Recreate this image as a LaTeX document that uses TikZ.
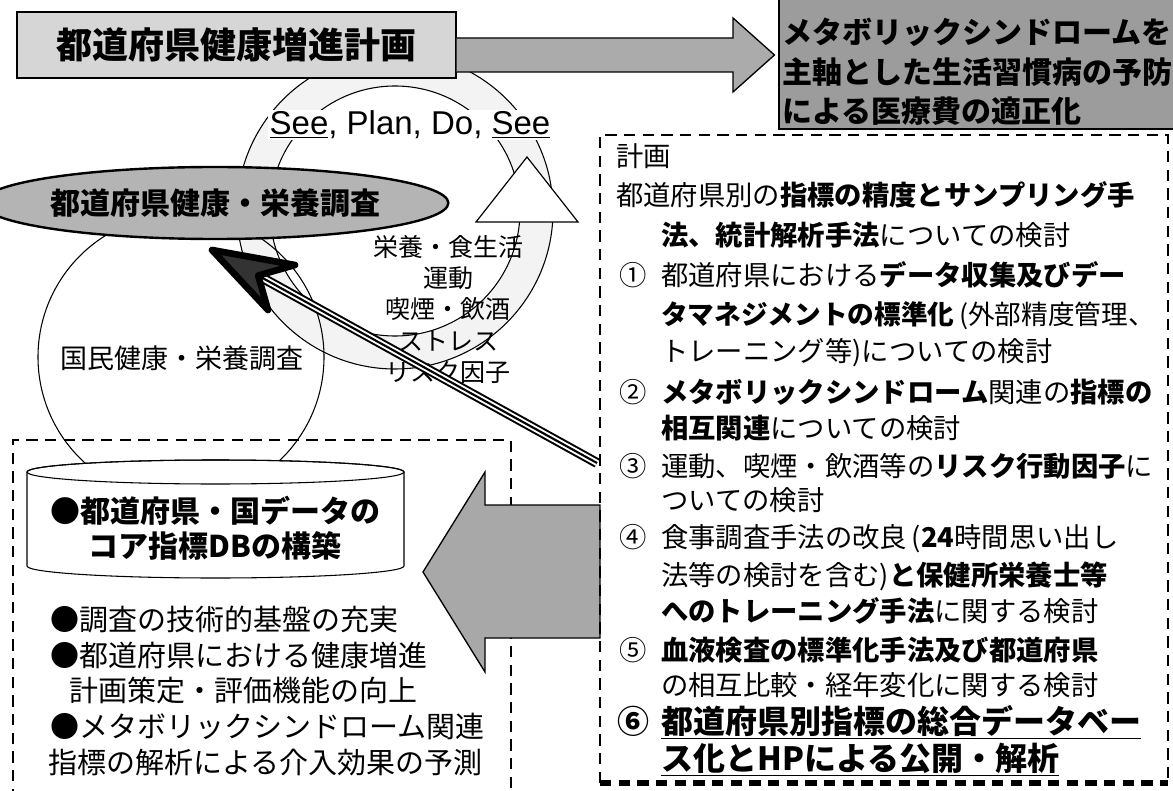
\documentclass[tikz,border=0pt]{standalone}
\usepackage{fontspec}
\setmainfont{Noto Sans CJK JP}
\newfontfamily\arialf{Liberation Sans}
\usetikzlibrary{calc,shapes.geometric}
\definecolor{boxgray}{HTML}{D6D6D6}
\definecolor{arrowgray}{HTML}{ABABAB}
\definecolor{goalgray}{HTML}{9C9C9C}
\definecolor{ellgray}{HTML}{B4B4B4}
\definecolor{bigarrowgray}{HTML}{A8A8A8}
\definecolor{ringfill}{HTML}{F3F3F3}
\newcommand\jfs[1]{\fontsize{#1}{#1}\selectfont}
\begin{document}
\begin{tikzpicture}[x=0.75pt,y=-0.75pt,
  rl/.style={inner sep=0, anchor=base west, font=\jfs{20.5pt}},
  rb/.style={inner sep=0, anchor=base west, font=\jfs{24pt}\bfseries},
  ll/.style={inner sep=0, anchor=base west, font=\jfs{21.75pt}},
  cyc/.style={inner sep=0, anchor=base, font=\jfs{18.75pt}},
  dbox/.style={line width=1.6pt, dash pattern=on 8.5pt off 5.5pt},
  shapeline/.style={draw=black, line width=1pt},
  thinline/.style={draw=black, line width=0.8pt}]
\useasboundingbox (0,0) rectangle (1173,791);
% cycle ring
\filldraw[fill=ringfill, thinline, even odd rule] (395,211) circle[radius=158] (395,211) circle[radius=125];
% national survey circle
\draw[thinline] (181,357) circle[radius=143];
% top plan box
\node[shapeline, fill=boxgray, minimum width=329.25pt, minimum height=49.5pt, inner sep=0,
  font=\jfs{27pt}\bfseries] (plan) at (236.5,45) {都道府県健康増進計画};
% goal box
\node[fill=goalgray, draw=black, line width=0.8pt, minimum width=297pt, minimum height=97.5pt, inner sep=0] (goal) at (977,64) {};
\node[inner sep=0, anchor=base west, font=\jfs{22.5pt}\bfseries] (g1) at (782,44) {メタボリックシンドロームを};
\node[inner sep=0, anchor=base west, font=\jfs{22.5pt}\bfseries] (g2) at (782,84) {主軸とした生活習慣病の予防};
\node[inner sep=0, anchor=base west, font=\jfs{22.5pt}\bfseries] (g3) at (782,123) {による医療費の適正化};
% top arrow
\filldraw[fill=arrowgray, shapeline] (plan.east |- 0,38) -- (733,38) -- (733,18) -- ($(goal.west |- 0,55)+(-4,0)$) -- (733,92) -- (733,72) -- (plan.east |- 0,72);
% prefecture survey ellipse
\node[ellipse, fill=ellgray, draw=black, line width=1.8pt, minimum width=309pt, minimum height=54pt, inner sep=0,
  font=\jfs{22.5pt}\bfseries] (ell) at (215,203) {都道府県健康・栄養調査};
% arrow head of the cycle
\filldraw[fill=white, draw=black, line width=0.9pt] (476,222) -- (578,222) -- (527,157) -- cycle;
% See Plan Do See
\node[fill=white, inner sep=1pt, font=\arialf\jfs{24.75pt}] (spds) at (410,125) {\underline{See}, Plan, Do, \underline{See}};
% cycle words
\node[cyc] (c1) at (448,257) {栄養・食生活};
\node[cyc] (c2) at (448,288) {運動};
\node[cyc] (c3) at (448,319) {喫煙・飲酒};
\node[cyc] (c4) at (448,350) {ストレス};
\node[cyc] (c5) at (448,381) {リスク因子};
\node[inner sep=0, font=\jfs{20.25pt}] (nat) at (182,358) {国民健康・栄養調査};
% left dashed box
\draw[dbox] (13,800) -- (13,440) -- (511,440) -- (511,800);
% cylinder
\filldraw[fill=white, thinline] (27,472) -- (27,566) arc[start angle=180, end angle=0, x radius=188.5, y radius=12] -- (404,472) arc[start angle=0, end angle=-180, x radius=188.5, y radius=12] -- cycle;
\draw[thinline] (215.5,472) ellipse[x radius=188.5, y radius=12];
\node[inner sep=0, anchor=base, font=\jfs{22.5pt}\bfseries] (db1) at (215,522) {●都道府県・国データの};
\node[inner sep=0, anchor=base, font=\jfs{22.5pt}\bfseries] (db2) at (215,557) {コア指標DBの構築};
\node[ll] (b1) at (50,630) {●調査の技術的基盤の充実};
\node[ll] (b2) at (50,666) {●都道府県における健康増進};
\node[ll] (b3) at (69,701) {計画策定・評価機能の向上};
\node[ll] (b4) at (50,737) {●メタボリックシンドローム関連};
\node[ll] (b5) at (48,773) {指標の解析による介入効果の予測};
% big gray arrow
\filldraw[fill=bigarrowgray, shapeline] (600,505) -- (485,505) -- (485,472) -- (423,572) -- (485,672) -- (485,638) -- (600,638) -- cycle;
% right dashed box
\draw[dbox] (600,783) -- (600,135) -- (1168,135) -- (1168,783);
\draw[dbox, line width=4pt] (600,783) -- (1168,783);
% right column text
\node[rl] (r0) at (616,167) {計画};
\node[rl] (r1) at (616,206) {都道府県別の\textbf{指標の精度とサンプリング手}};
\node[rl] (r2) at (661,246) {\textbf{法、統計解析手法}についての検討};
\node[rl] (n1) at (619,286) {①};
\node[rl] (r3) at (661,286) {都道府県における\textbf{データ収集及びデー}};
\node[rl, font=\jfs{20pt}] (r4) at (661,325) {\textbf{タマネジメントの標準化}\,(外部精度管理、};
\node[rl] (r5) at (661,361) {トレーニング等)についての検討};
\node[rl] (n2) at (619,402) {②};
\node[rl] (r6) at (661,402) {\textbf{メタボリックシンドローム}関連の\textbf{指標の}};
\node[rl] (r7) at (661,438) {\textbf{相互関連}についての検討};
\node[rl] (n3) at (619,476) {③};
\node[rl] (r8) at (661,476) {運動、喫煙・飲酒等の\textbf{リスク行動因子}に};
\node[rl] (r9) at (661,510) {ついての検討};
\node[rl] (n4) at (619,547) {④};
\node[rl] (r10) at (661,547) {食事調査手法の改良\,(\textbf{24}時間思い出し};
\node[rl] (r11) at (661,585) {法等の検討を含む)\textbf{と保健所栄養士等}};
\node[rl] (r12) at (661,621) {\textbf{へのトレーニング手法}に関する検討};
\node[rl] (n5) at (619,660) {⑤};
\node[rl] (r13) at (661,660) {\textbf{血液検査の標準化手法及び都道府県}};
\node[rl] (r14) at (661,695) {の相互比較・経年変化に関する検討};
\node[rb] (n6) at (617,733) {⑥};
\node[rb] (r15) at (661,733) {\underline{都道府県別指標の総合データベー}};
\node[rb] (r16) at (661,770) {\underline{ス化とHPによる公開・解析}};
% black double arrow from the plan list to the prefecture survey
\coordinate (atail) at (597,463);
\coordinate (atip) at (212,250);
\coordinate (anotch) at ($(atip)!0.12!(atail)$);
\coordinate (abarbA) at (295,265);
\coordinate (abarbB) at (268,310);
\draw[line width=7.5pt] (atail) -- (anotch);
\draw[white, line width=4.5pt] (atail) -- (anotch);
\draw[line width=1.6pt] (atail) -- (anotch);
\filldraw[fill=black!80, draw=black, line width=5pt, line join=round, line cap=round] (atip) -- (abarbA) -- (anotch) -- (abarbB) -- cycle;
\end{tikzpicture}
\end{document}
